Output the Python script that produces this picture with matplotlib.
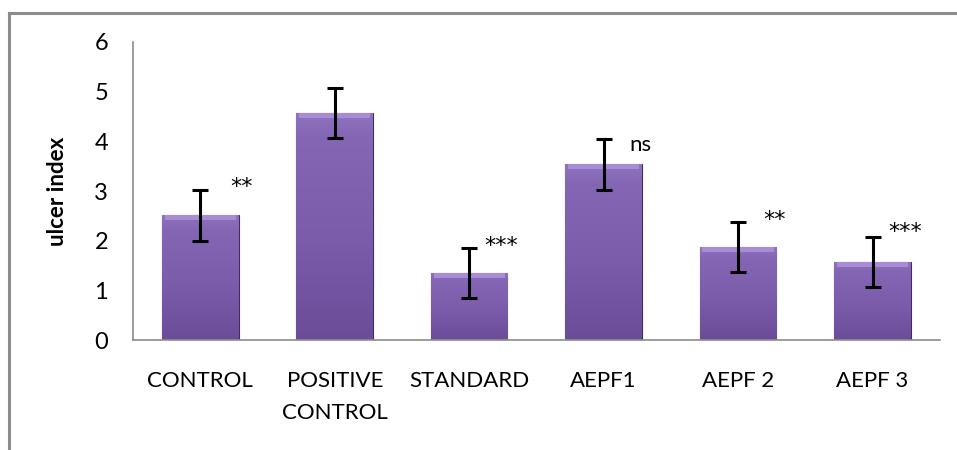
import numpy as np
import matplotlib
matplotlib.use("Agg")
import matplotlib.pyplot as plt
from matplotlib.lines import Line2D
from matplotlib.colors import LinearSegmentedColormap

# Data
groups = ["CONTROL", "POSITIVE\nCONTROL", "STANDARD", "AEPF1", "AEPF 2", "AEPF 3"]
ulcerIndex = [2.51, 4.57, 1.35, 3.54, 1.87, 1.57]
errors = [0.52, 0.51, 0.50, 0.51, 0.51, 0.51]
marks = ["**", "", "***", "ns", "**", "***"]

# Offsets of the significance labels from each error bar top
markDx = [0.22, 0.0, 0.11, 0.19, 0.19, 0.12]
markDy = [0.05, 0.0, 0.05, -0.12, 0.03, 0.10]

plt.rcParams["font.family"] = ["Lato", "DejaVu Sans"]

fig = plt.figure(figsize=(9.57, 4.5), dpi=100)
ax = fig.add_axes([0.139, 0.2444, 0.843, 0.6623])

x = np.arange(len(groups))
bars = ax.bar(x, ulcerIndex, width=0.57, color="#7a5aa8", edgecolor="#3e2d5c", linewidth=0.8, zorder=2)

# Vertical gradient on each bar, clipped to the bar shape
cmap = LinearSegmentedColormap.from_list("purp", ["#b59ae0", "#8466b4", "#7b5cab", "#6a4c98"])
grad = np.linspace(0.25, 1, 256).reshape(-1, 1)
for b in bars:
    x0, y0 = b.get_x(), b.get_y()
    w, h = b.get_width(), b.get_height()
    im = ax.imshow(grad, cmap=cmap, vmin=0, vmax=1, aspect="auto",
                   extent=(x0, x0 + w, y0, y0 + h), origin="upper", zorder=2.5)
    im.set_clip_path(b)
    # light bevel strip along the top edge
    ax.fill_between([x0 + 0.02, x0 + w - 0.02], y0 + h - 0.1, y0 + h,
                    color="#a88cd6", linewidth=0, zorder=2.6)

ax.errorbar(x, ulcerIndex, yerr=errors, fmt="none", ecolor="black", elinewidth=2.2,
            capsize=6, capthick=2.2, zorder=4)

for i in range(len(groups)):
    if marks[i]:
        top = ulcerIndex[i] + errors[i]
        fam = "DejaVu Sans" if "*" in marks[i] else "Lato"
        ax.text(x[i] + markDx[i], top + markDy[i], marks[i], fontsize=16, family=fam,
                ha="left", va="center")

ax.set_xlim(-0.5, len(groups) - 0.5)
ax.set_ylim(0, 6)
ax.set_yticks(range(0, 7))
ax.set_xticks(x)
ax.set_xticklabels(groups, fontsize=16, linespacing=1.8)
ax.tick_params(axis="y", length=0, pad=18, labelsize=17)
ax.tick_params(axis="x", length=0, pad=22)
ax.set_ylabel("ulcer index", fontsize=16, fontweight="bold")
ax.yaxis.set_label_coords(-0.081, 0.5)

for side in ["top", "right"]:
    ax.spines[side].set_visible(False)
for side in ["left", "bottom"]:
    ax.spines[side].set_color("#8c8c8c")
    ax.spines[side].set_linewidth(1.2)

# Chart-area border (only left and top edges visible)
fig.add_artist(Line2D([0.0095, 0.0095], [0.0, 0.971], color="#8c8c8c", linewidth=2.2))
fig.add_artist(Line2D([0.0095, 1.0], [0.971, 0.971], color="#8c8c8c", linewidth=2.2))

fig.savefig("out.png", dpi=100)
